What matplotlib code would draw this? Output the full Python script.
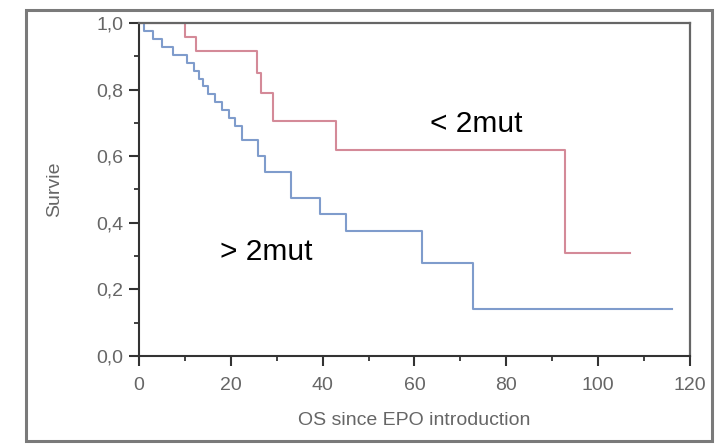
import matplotlib.pyplot as plt
from matplotlib.patches import Rectangle
from matplotlib.ticker import MultipleLocator, FuncFormatter

plt.rcParams['font.family'] = ['Liberation Sans', 'DejaVu Sans']

# Kaplan-Meier steps: event times and survival after each drop
low_times = [0, 10, 12.5, 25.8, 26.5, 29.2, 43, 92.8, 107]
low_surv = [1.0, 0.958, 0.917, 0.85, 0.79, 0.705, 0.62, 0.31, 0.31]

high_times = [0, 1, 3, 5, 7.5, 10.5, 12, 13, 14, 15, 16.5, 18, 19.5, 21, 22.5,
              26, 27.5, 33, 39.5, 45, 61.6, 72.8, 116]
high_surv = [1.0, 0.976, 0.952, 0.929, 0.905, 0.881, 0.857, 0.833, 0.81, 0.786,
             0.762, 0.738, 0.714, 0.69, 0.65, 0.60, 0.554, 0.473, 0.425, 0.375,
             0.28, 0.14, 0.14]

fig = plt.figure(figsize=(7.16, 4.44), dpi=100)
fig.patches.append(Rectangle((0.037, 0.006), 0.957, 0.972, transform=fig.transFigure,
                             fill=False, edgecolor='#7a7a7a', linewidth=2.2))
ax = fig.add_axes([0.1941, 0.1982, 0.7696, 0.75])

ax.step(low_times, low_surv, where='post', color='#d48a98', linewidth=1.5)
ax.step(high_times, high_surv, where='post', color='#7f9ccc', linewidth=1.5)

ax.set_xlim(0, 120)
ax.set_ylim(0, 1.0)
ax.xaxis.set_major_locator(MultipleLocator(20))
ax.xaxis.set_minor_locator(MultipleLocator(10))
ax.yaxis.set_major_locator(MultipleLocator(0.2))
ax.yaxis.set_minor_locator(MultipleLocator(0.1))
ax.yaxis.set_major_formatter(FuncFormatter(lambda v, p: f'{v:.1f}'.replace('.', ',')))
ax.tick_params(which='major', direction='out', length=7, width=1.5, color='#333333',
               labelsize=14, labelcolor='#666666')
ax.tick_params(which='minor', direction='out', length=3.5, width=1.3, color='#333333')
ax.tick_params(axis='x', which='major', pad=8)
ax.tick_params(axis='y', which='major', pad=4)

for side in ['left', 'bottom']:
    ax.spines[side].set_color('#333333')
    ax.spines[side].set_linewidth(1.5)
for side in ['top', 'right']:
    ax.spines[side].set_color('#666666')
    ax.spines[side].set_linewidth(1.6)

ax.set_ylabel('Survie', fontsize=14, color='#666666', labelpad=24)
ax.set_xlabel('OS since EPO introduction', fontsize=14, color='#666666', labelpad=13)

ax.text(63.4, 0.696, '< 2mut', fontsize=21.5, color='black', va='center', ha='left')
ax.text(17.6, 0.313, '> 2mut', fontsize=21.5, color='black', va='center', ha='left')

fig.savefig('out.png', dpi=100)
